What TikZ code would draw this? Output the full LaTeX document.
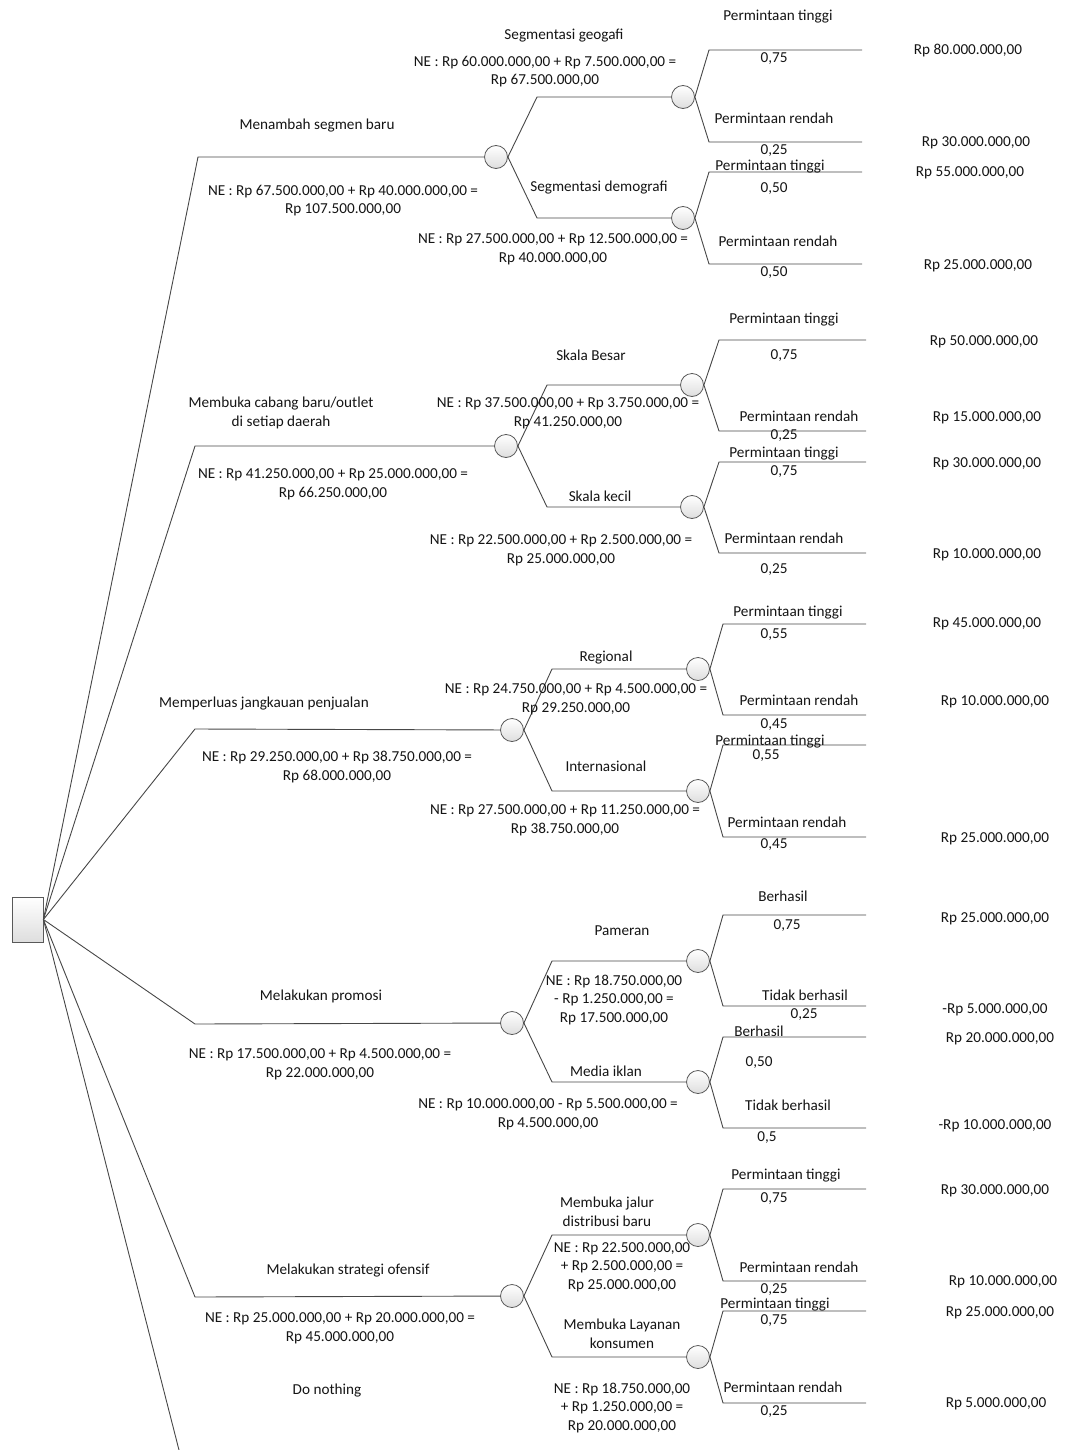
\documentclass[tikz,border=0pt]{standalone}
\usepackage{fontspec}
\setmainfont{Carlito}
\begin{document}
\begin{tikzpicture}[x=1pt,y=-1pt,
  ln/.style={draw=black!72,line width=0.9pt},
  chance/.style={circle,draw=black!65,line width=0.8pt,minimum size=23pt,inner sep=0pt,top color=white,bottom color=black!13},
  dec/.style={rectangle,draw=black!65,line width=0.8pt,minimum width=31pt,minimum height=45pt,inner sep=0pt,top color=white,bottom color=black!13},
  lbl/.style={font=\fontsize{15.2}{18.3}\selectfont,inner sep=0pt,align=center,anchor=base,yshift=-5pt,text=black!92}]
\useasboundingbox (0,0) rectangle (1070,1450);

% decision node
\node[dec] (d) at (27.5,919.5) {};

% chance nodes
\node[chance] (c1) at (496,157) {};
\node[chance] (c1a) at (683,97) {};
\node[chance] (c1b) at (683,218) {};
\node[chance] (c2) at (506,446) {};
\node[chance] (c2a) at (692,385) {};
\node[chance] (c2b) at (692,507) {};
\node[chance] (c3) at (512,730) {};
\node[chance] (c3a) at (698,669) {};
\node[chance] (c3b) at (698,791) {};
\node[chance] (c4) at (512,1023) {};
\node[chance] (c4a) at (698,961) {};
\node[chance] (c4b) at (698,1082) {};
\node[chance] (c5) at (512,1296) {};
\node[chance] (c5a) at (698,1235) {};
\node[chance] (c5b) at (698,1357) {};

% corners
\coordinate (k1) at (198,157);
\coordinate (k2) at (195,446);
\coordinate (k3) at (195,729);
\coordinate (k4) at (195,1024);
\coordinate (k5) at (195,1297);
\coordinate (k6) at (179.5,1452);
\coordinate (k1a) at (537,97);  \coordinate (k1b) at (537,218);
\coordinate (k2a) at (547,385); \coordinate (k2b) at (547,507);
\coordinate (k3a) at (552,669); \coordinate (k3b) at (552,791);
\coordinate (k4a) at (552,961); \coordinate (k4b) at (552,1082);
\coordinate (k5a) at (552,1235); \coordinate (k5b) at (552,1357);

% strategy branches
\draw[ln] (d.east) -- (k1) -- (c1);
\draw[ln] (d.east) -- (k2) -- (c2);
\draw[ln] (d.east) -- (k3) -- (c3);
\draw[ln] (d.east) -- (k4) -- (c4);
\draw[ln] (d.east) -- (k5) -- (c5);
\draw[ln] (d.east) -- (k6);

% sub-branches
\foreach \p in {1,2,3,4,5}{
  \draw[ln] (c\p.east) -- (k\p a) -- (c\p a);
  \draw[ln] (c\p.east) -- (k\p b) -- (c\p b);
}

% outcome branches
\foreach \c/\ya/\yb/\xk/\xe in {c1a/50/142/709/862, c1b/172/264/709/862, c2a/340/431/719/866, c2b/462/553/719/866, c3a/624/715/723/866, c3b/745/837/723/866, c4a/915/1006/723/866, c4b/1037/1128/723/866, c5a/1189/1281/723/866, c5b/1311/1403/723/866}{
  \coordinate (\c-ku) at (\xk,\ya);
  \coordinate (\c-eu) at (\xe,\ya);
  \coordinate (\c-kd) at (\xk,\yb);
  \coordinate (\c-ed) at (\xe,\yb);
  \draw[ln] (\c.east) -- (\c-ku) -- (\c-eu);
  \draw[ln] (\c.east) -- (\c-kd) -- (\c-ed);
}

% ---------- Section 1 ----------
\node[lbl] (s1) at (317,125) {Menambah segmen baru};
\node[lbl] (n1) at (343,209) {NE : Rp 67.500.000,00 + Rp 40.000.000,00 =\\Rp 107.500.000,00};
\node[lbl] (s1a) at (564,35) {Segmentasi geogafi};
\node[lbl] (n1a) at (545,80) {NE : Rp 60.000.000,00 + Rp 7.500.000,00 =\\Rp 67.500.000,00};
\node[lbl] (s1b) at (599,187) {Segmentasi demografi};
\node[lbl] (n1b) at (553,257) {NE : Rp 27.500.000,00 + Rp 12.500.000,00 =\\Rp 40.000.000,00};
\node[lbl] (t1) at (778,16) {Permintaan tinggi};
\node[lbl] (p1) at (774,58) {0,75};
\node[lbl] (t2) at (774,119) {Permintaan rendah};
\node[lbl] (p2) at (774,150) {0,25};
\node[lbl] (t3) at (770,166) {Permintaan tinggi};
\node[lbl] (p3) at (774,188) {0,50};
\node[lbl] (t4) at (778,241) {Permintaan rendah};
\node[lbl] (p4) at (774,271) {0,50};
\node[lbl] (v1) at (968,50) {Rp 80.000.000,00};
\node[lbl] (v2) at (976,142) {Rp 30.000.000,00};
\node[lbl] (v3) at (970,172) {Rp 55.000.000,00};
\node[lbl] (v4) at (978,264) {Rp 25.000.000,00};

% ---------- Section 2 ----------
\node[lbl] (s2) at (281,421) {Membuka cabang baru/outlet\\di setiap daerah};
\node[lbl] (n2) at (333,492) {NE : Rp 41.250.000,00 + Rp 25.000.000,00 =\\Rp 66.250.000,00};
\node[lbl] (s2a) at (591,355) {Skala Besar};
\node[lbl] (n2a) at (568,421) {NE : Rp 37.500.000,00 + Rp 3.750.000,00 =\\Rp 41.250.000,00};
\node[lbl] (s2b) at (600,496) {Skala kecil};
\node[lbl] (n2b) at (561,558) {NE : Rp 22.500.000,00 + Rp 2.500.000,00 =\\Rp 25.000.000,00};
\node[lbl] (t5) at (784,318) {Permintaan tinggi};
\node[lbl] (p5) at (784,354) {0,75};
\node[lbl] (t6) at (799,416) {Permintaan rendah};
\node[lbl] (p6) at (784,434) {0,25};
\node[lbl] (t7) at (784,452) {Permintaan tinggi};
\node[lbl] (p7) at (784,470) {0,75};
\node[lbl] (t8) at (784,538) {Permintaan rendah};
\node[lbl] (p8) at (774,568) {0,25};
\node[lbl] (v5) at (984,340) {Rp 50.000.000,00};
\node[lbl] (v6) at (987,416) {Rp 15.000.000,00};
\node[lbl] (v7) at (987,462) {Rp 30.000.000,00};
\node[lbl] (v8) at (987,553) {Rp 10.000.000,00};

% ---------- Section 3 ----------
\node[lbl] (s3) at (264,702) {Memperluas jangkauan penjualan};
\node[lbl] (n3) at (337,775) {NE : Rp 29.250.000,00 + Rp 38.750.000,00 =\\Rp 68.000.000,00};
\node[lbl] (s3a) at (606,656) {Regional};
\node[lbl] (n3a) at (576,707) {NE : Rp 24.750.000,00 + Rp 4.500.000,00 =\\Rp 29.250.000,00};
\node[lbl] (s3b) at (606,766) {Internasional};
\node[lbl] (n3b) at (565,828) {NE : Rp 27.500.000,00 + Rp 11.250.000,00 =\\Rp 38.750.000,00};
\node[lbl] (t9) at (788,611) {Permintaan tinggi};
\node[lbl] (p9) at (774,633) {0,55};
\node[lbl] (t10) at (799,700) {Permintaan rendah};
\node[lbl] (p10) at (774,723) {0,45};
\node[lbl] (t11) at (770,740) {Permintaan tinggi};
\node[lbl] (p11) at (766,754) {0,55};
\node[lbl] (t12) at (787,822) {Permintaan rendah};
\node[lbl] (p12) at (774,843) {0,45};
\node[lbl] (v9) at (987,622) {Rp 45.000.000,00};
\node[lbl] (v10) at (995,700) {Rp 10.000.000,00};
\node[lbl] (v12) at (995,837) {Rp 25.000.000,00};

% ---------- Section 4 ----------
\node[lbl] (s4) at (321,995) {Melakukan promosi};
\node[lbl] (n4) at (320,1072) {NE : Rp 17.500.000,00 + Rp 4.500.000,00 =\\Rp 22.000.000,00};
\node[lbl] (s4a) at (622,930) {Pameran};
\node[lbl] (n4a) at (614,1017) {NE : Rp 18.750.000,00\\- Rp 1.250.000,00 =\\Rp 17.500.000,00};
\node[lbl] (s4b) at (606,1071) {Media iklan};
\node[lbl] (n4b) at (548,1122) {NE : Rp 10.000.000,00 - Rp 5.500.000,00 =\\Rp 4.500.000,00};
\node[lbl] (t13) at (783,896) {Berhasil};
\node[lbl] (p13) at (787,924) {0,75};
\node[lbl] (t14) at (805,995) {Tidak berhasil};
\node[lbl] (p14) at (804,1013) {0,25};
\node[lbl] (t15) at (759,1031) {Berhasil};
\node[lbl] (p15) at (759,1061) {0,50};
\node[lbl] (t16) at (788,1105) {Tidak berhasil};
\node[lbl] (p16) at (767,1136) {0,5};
\node[lbl] (v13) at (995,917) {Rp 25.000.000,00};
\node[lbl] (v14) at (995,1008) {-Rp 5.000.000,00};
\node[lbl] (v15) at (1000,1037) {Rp 20.000.000,00};
\node[lbl] (v16) at (995,1124) {-Rp 10.000.000,00};

% ---------- Section 5 ----------
\node[lbl] (s5) at (348,1269) {Melakukan strategi ofensif};
\node[lbl] (n5) at (340,1336) {NE : Rp 25.000.000,00 + Rp 20.000.000,00 =\\Rp 45.000.000,00};
\node[lbl] (s6) at (327,1389) {Do nothing};
\node[lbl] (s5a) at (607,1221) {Membuka jalur\\distribusi baru};
\node[lbl] (n5a) at (622,1284) {NE : Rp 22.500.000,00\\+ Rp 2.500.000,00 =\\Rp 25.000.000,00};
\node[lbl] (s5b) at (622,1343) {Membuka Layanan\\konsumen};
\node[lbl] (n5b) at (622,1425) {NE : Rp 18.750.000,00\\+ Rp 1.250.000,00 =\\Rp 20.000.000,00};
\node[lbl] (t17) at (786,1174) {Permintaan tinggi};
\node[lbl] (p17) at (774,1197) {0,75};
\node[lbl] (t18) at (799,1267) {Permintaan rendah};
\node[lbl] (p18) at (774,1288) {0,25};
\node[lbl] (t19) at (775,1303) {Permintaan tinggi};
\node[lbl] (p19) at (774,1319) {0,75};
\node[lbl] (t20) at (783,1387) {Permintaan rendah};
\node[lbl] (p20) at (774,1410) {0,25};
\node[lbl] (v17) at (995,1189) {Rp 30.000.000,00};
\node[lbl] (v18) at (1003,1280) {Rp 10.000.000,00};
\node[lbl] (v19) at (1000,1311) {Rp 25.000.000,00};
\node[lbl] (v20) at (996,1402) {Rp 5.000.000,00};
\node[lbl] (v21) at (984,1456) {0};
\end{tikzpicture}
\end{document}
